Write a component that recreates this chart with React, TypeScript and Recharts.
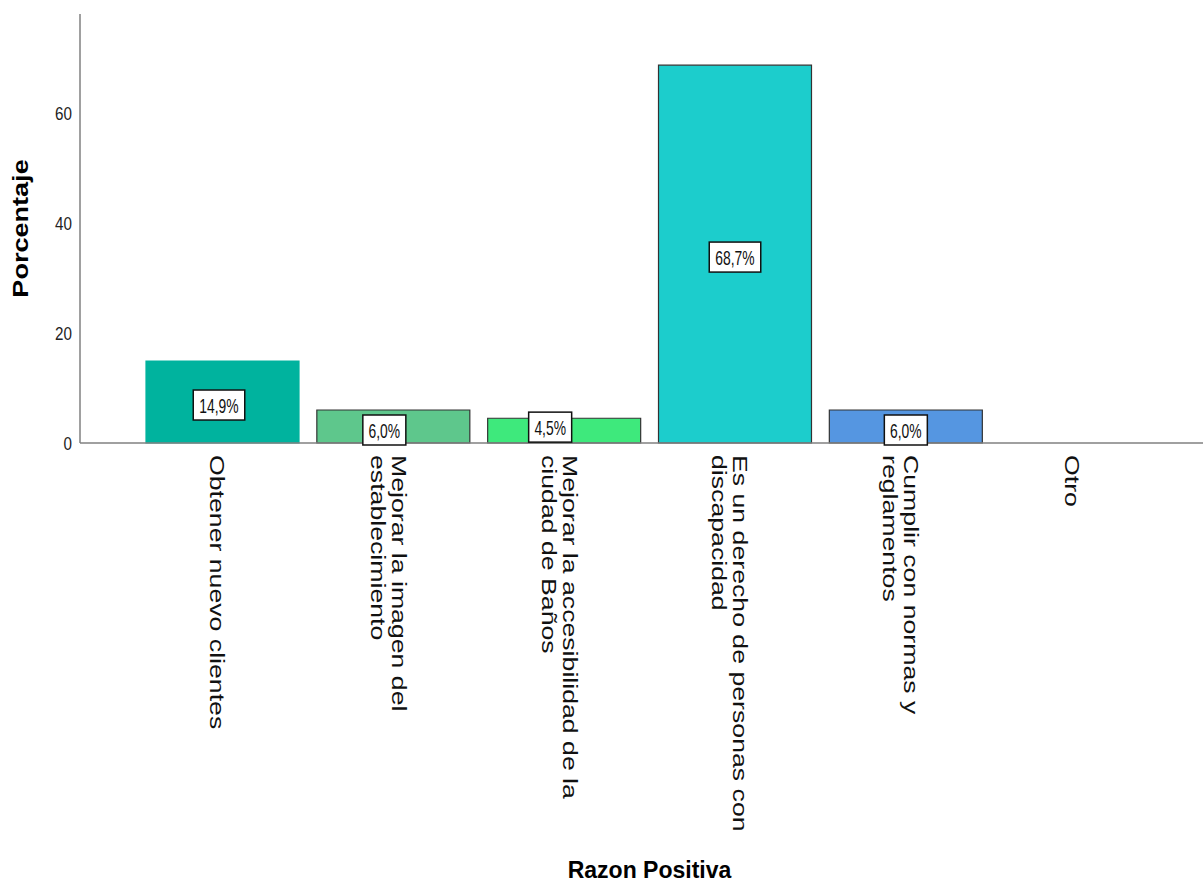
import { Bar, BarChart, Cell, Label, LabelList, XAxis, YAxis } from 'recharts'

const categoryLines: string[][] = [
  ['Obtener nuevo clientes'],
  ['Mejorar la imagen del', 'establecimiento'],
  ['Mejorar la accesibilidad de la', 'ciudad de Baños'],
  ['Es un derecho de personas con', 'discapacidad'],
  ['Cumplir con normas y', 'reglamentos'],
  ['Otro'],
]
const percentages = [14.9, 6.0, 4.5, 68.7, 6.0, 0]
const yTicks = [0, 20, 40, 60]

const barColors = ['#00b39e', '#5ec78c', '#3ee97c', '#1ccdcc', '#5596e1', '#999999']
const barStrokes = ['#00b39e', '#333333', '#333333', '#333333', '#333333', '#333333']
// SPSS shoves a few value boxes around to keep them apart
const labelDx = [-3.5, -9, -14, 0, 0, 0]
const labelDy = [3, 3.5, -3.5, 3, 3.5, 0]

const data = categoryLines.map((lines, i) => ({
  name: lines.join(' '),
  value: percentages[i],
}))

const FONT = '"Liberation Sans", Arial, sans-serif'
const AXIS_COLOR = '#808080'

function formatPct(v: number) {
  return v.toFixed(1).replace('.', ',') + '%'
}

function CategoryTick(props: any) {
  const { x, y, index } = props
  const lines = categoryLines[index] ?? [String(props.payload?.value ?? '')]
  const n = lines.length
  return (
    <g transform={`translate(${x},${y + 12})`}>
      {lines.map((line, i) => (
        <text
          key={i}
          x={0}
          y={12 - ((n - 1) / 2 - i) * 21}
          transform="rotate(90) scale(1.27,1)"
          textAnchor="start"
          fontFamily={FONT}
          fontSize={21}
          fill="#111"
        >
          {line}
        </text>
      ))}
    </g>
  )
}

function PercentTick(props: any) {
  const { x, y, payload } = props
  return (
    <text
      transform={`translate(${x},${y}) scale(0.8,1)`}
      textAnchor="end"
      dominantBaseline="central"
      fontFamily={FONT}
      fontSize={19}
      fill="#222"
    >
      {payload.value}
    </text>
  )
}

function ValueBox(props: any) {
  const { x, y, width, height, value, index } = props
  if (!value) return null
  const text = formatPct(Number(value))
  const boxW = text.length * 8.5 + 9
  const boxH = 30
  const cx = Number(x) + Number(width) / 2 + (labelDx[index] ?? 0)
  const cy = Number(y) + Number(height) / 2 + (labelDy[index] ?? 0)
  return (
    <g>
      <rect
        x={cx - boxW / 2}
        y={cy - boxH / 2}
        width={boxW}
        height={boxH}
        fill="#ffffff"
        stroke="#111"
        strokeWidth={1.5}
      />
      <text
        transform={`translate(${cx},${cy + 1}) scale(0.66,1)`}
        textAnchor="middle"
        dominantBaseline="central"
        fontFamily={FONT}
        fontSize={21}
        fill="#111"
      >
        {text}
      </text>
    </g>
  )
}

export default function App() {
  return (
    <div style={{ position: 'absolute', left: 0, top: 0, background: '#fff' }}>
      <BarChart
        width={1203}
        height={885}
        data={data}
        margin={{ top: 14, right: 0, bottom: 0, left: 0 }}
        barCategoryGap={9}
      >
        <YAxis
          type="number"
          domain={[0, 78]}
          ticks={yTicks}
          width={80}
          tickLine={false}
          tickSize={0}
          tickMargin={8}
          axisLine={{ stroke: AXIS_COLOR, strokeWidth: 1.5 }}
          tick={<PercentTick />}
        >
          <Label
            content={(p: any) => {
              const vb = p.viewBox
              return (
                <text
                  transform={`translate(${vb.x + 28},${vb.y + vb.height / 2}) rotate(-90) scale(1.23,1)`}
                  textAnchor="middle"
                  fontFamily={FONT}
                  fontWeight="bold"
                  fontSize={22}
                  fill="#000"
                >
                  Porcentaje
                </text>
              )
            }}
          />
        </YAxis>
        <XAxis
          dataKey="name"
          type="category"
          height={442}
          interval={0}
          padding={{ left: 57, right: 41 }}
          tickLine={false}
          tickSize={0}
          tickMargin={0}
          axisLine={{ stroke: AXIS_COLOR, strokeWidth: 1.5 }}
          tick={<CategoryTick />}
        >
          <Label
            content={(p: any) => {
              const vb = p.viewBox
              return (
                <text
                  x={vb.x + vb.width / 2 + 8}
                  y={vb.y + vb.height - 7}
                  textAnchor="middle"
                  fontFamily={FONT}
                  fontWeight="bold"
                  fontSize={23}
                  fill="#000"
                >
                  Razon Positiva
                </text>
              )
            }}
          />
        </XAxis>
        <Bar dataKey="value" isAnimationActive={false}>
          {data.map((_, i) => (
            <Cell key={i} fill={barColors[i]} stroke={barStrokes[i]} strokeWidth={1.2} />
          ))}
          <LabelList dataKey="value" content={(p: any) => <ValueBox {...p} />} />
        </Bar>
      </BarChart>
    </div>
  )
}
